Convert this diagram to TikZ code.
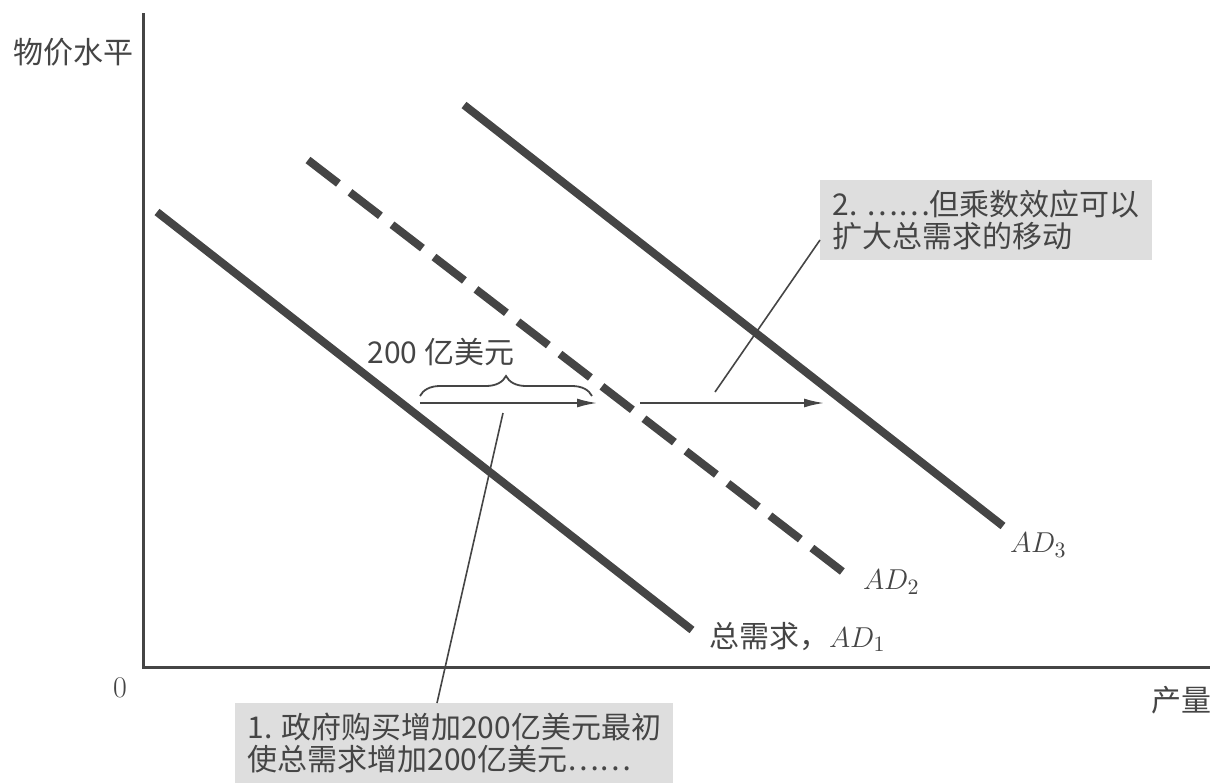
\documentclass[tikz,border=0pt]{standalone}
\usepackage{fontspec}
\newfontfamily\cjk{Noto Sans CJK SC}
\usetikzlibrary{arrows.meta,decorations.pathreplacing}
\definecolor{inkgray}{gray}{0.27}
\definecolor{boxgray}{gray}{0.87}
\tikzset{
  ad curve/.style={line width=4pt,inkgray},
  ad dashed/.style={ad curve,dash pattern=on 19.2pt off 7.3pt},
  axis line/.style={line width=1.5pt,inkgray},
  shift arrow/.style={-{Latex[length=10pt,width=4.5pt]},line width=0.9pt,inkgray},
  brace line/.style={decorate,decoration={brace,amplitude=10pt},line width=0.9pt,inkgray},
  leader line/.style={line width=0.8pt,inkgray},
  note box/.style={fill=boxgray,text=inkgray,align=left,
    font=\cjk\fontsize{15}{16}\selectfont,inner xsep=6pt,inner ysep=5pt},
  axis label/.style={text=inkgray,font=\cjk\fontsize{15}{18}\selectfont},
  curve label/.style={text=inkgray,font=\fontsize{15}{18}\selectfont},
}
\begin{document}
\begin{tikzpicture}[x=0.5pt,y=-0.5pt]
  \useasboundingbox (0,0) rectangle (1221,782);
  \clip (0,0) rectangle (1221,782);
  % axes
  \coordinate (ytop) at (143,13);
  \coordinate (origin) at (143,667);
  \coordinate (xend) at (1210,667);
  \draw[axis line] (ytop) -- (origin) -- (xend);
  \node[axis label] (ylabel) at (73,52) {物价水平};
  \node[curve label] (zero) at (120,688) {0};
  \node[axis label] (xlabel) at (1181,700) {产量};
  % demand curves
  \coordinate (ad1a) at (157,212);
  \coordinate (ad1b) at (692,630);
  \coordinate (ad2a) at (308,160);
  \coordinate (ad2b) at (843,572);
  \coordinate (ad3a) at (464,105);
  \coordinate (ad3b) at (1003,526);
  \draw[ad curve] (ad1a) -- (ad1b);
  \draw[ad dashed] (ad2a) -- (ad2b);
  \draw[ad curve] (ad3a) -- (ad3b);
  \node[axis label,anchor=west] (ad1label) at (702,637) {总需求，$AD_1$};
  \node[curve label,anchor=west] (ad2label) at (856,582) {$AD_2$};
  \node[curve label,anchor=west] (ad3label) at (1003,545) {$AD_3$};
  % shifts
  \coordinate (s1a) at (420,403);
  \coordinate (s1b) at (597,403);
  \coordinate (s2a) at (640,403);
  \coordinate (s2b) at (824,403);
  \draw[shift arrow] (s1a) -- (s1b);
  \draw[shift arrow] (s2a) -- (s2b);
  \coordinate (bra) at (420,396);
  \coordinate (brb) at (592,396);
  \draw[brace line] (bra) -- (brb);
  \node[axis label] (amount) at (441,352) {200 亿美元};
  % notes
  \node[note box,anchor=north west] (note1) at (235,703)
    {1. 政府购买增加200亿美元最初\\使总需求增加200亿美元……};
  \node[note box,anchor=north west] (note2) at (820,180)
    {2. ……但乘数效应可以\\扩大总需求的移动};
  \coordinate (lead1) at (503,413);
  \coordinate (lead2) at (715,392);
  \draw[leader line] (lead1) -- (note1.north -| 437,0);
  \draw[leader line] (lead2) -- (note2.west |- 0,240);
\end{tikzpicture}
\end{document}
